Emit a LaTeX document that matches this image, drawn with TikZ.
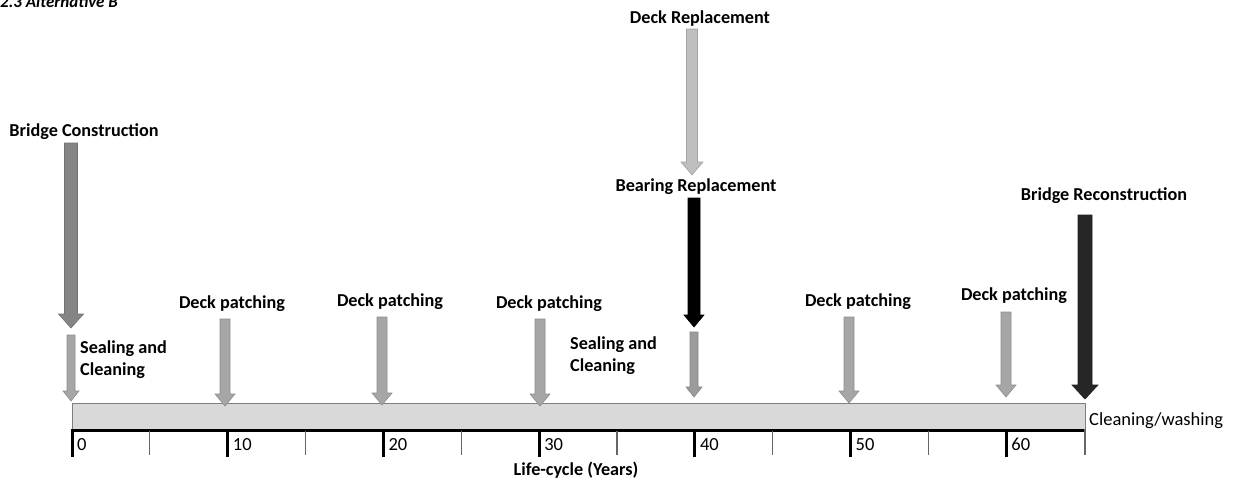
\documentclass[tikz,border=0pt]{standalone}
\usepackage{fontspec}
\setmainfont{Carlito}
\definecolor{barfill}{HTML}{D9D9D9}
\definecolor{bargray}{HTML}{7F7F7F}
\definecolor{cBC}{HTML}{858585}
\definecolor{cDP}{HTML}{A6A6A6}
\definecolor{cSC}{HTML}{9C9C9C}
\definecolor{cDR}{HTML}{BFBFBF}
\definecolor{cBR}{HTML}{000000}
\definecolor{cRC}{HTML}{262626}
% name, x, top, tip, shaft width, head width, head length, colour
\newcommand\blockarrow[8]{%
  \coordinate (#1-top) at (#2,#3);
  \coordinate (#1-tip) at (#2,#4);
  \filldraw[fill=#8, draw=#8!85!black, line width=0.6pt, line join=miter]
    ($(#1-top)+(-#5/2,0)$) -- ($(#1-top)+(#5/2,0)$) --
    ($(#1-tip)+(#5/2,-#7)$) -- ($(#1-tip)+(#6/2,-#7)$) -- (#1-tip) --
    ($(#1-tip)+(-#6/2,-#7)$) -- ($(#1-tip)+(-#5/2,-#7)$) -- cycle;}
\usetikzlibrary{calc}
\begin{document}
\begin{tikzpicture}[x=1pt,y=-1pt,
  lbl/.style={font=\fontsize{18.2}{21}\selectfont\bfseries, inner sep=0pt, anchor=base},
  lbll/.style={lbl, anchor=base west},
  num/.style={font=\fontsize{18.5}{21}\selectfont, inner sep=0pt, anchor=base west},
  major/.style={line width=3pt, black},
  minor/.style={line width=1.2pt, draw=black!60}]
\useasboundingbox (0,0) rectangle (1234,483);

% title (cut at the top edge)
\node[font=\fontsize{17}{20}\selectfont\bfseries\itshape, inner sep=0pt, anchor=base west] (title) at (0,7) {2.3 Alternative B};

% bar
\draw[fill=barfill, draw=bargray, line width=1pt] (72,403) rectangle (1085,429);
\node[num] (wash) at (1089,425) {Cleaning/washing};

% axis
\draw[line width=3pt] (72,430.5) -- (1085,430.5);
\foreach \k/\lab in {0/0,1/10,2/20,3/30,4/40,5/50,6/60}{
  \draw[major] ({72+155.7*\k},429) -- ({72+155.7*\k},457);
  \node[num] (n\lab) at ({77+155.7*\k},450) {\lab};
}
\foreach \k in {0,...,5}{
  \draw[minor] ({149.85+155.7*\k},431) -- ({149.85+155.7*\k},455);
}
\draw[minor] (1085,429) -- (1085,455);
\node[lbl] (axis) at (576,475) {Life-cycle (Years)};

% arrows
\blockarrow{bc}{71}{143}{328}{13}{25}{14}{cBC}
\blockarrow{scA}{71}{335}{401}{8}{16}{10}{cDP}
\blockarrow{dpA}{225}{319}{406}{10}{20}{12}{cDP}
\blockarrow{dpB}{382}{317}{405}{10}{20}{12}{cDP}
\blockarrow{dpC}{540}{319}{406}{10}{20}{12}{cDP}
\blockarrow{scB}{694}{332}{397}{8}{16}{10}{cSC}
\blockarrow{dr}{692}{29}{175}{11}{22}{13}{cDR}
\blockarrow{br}{694}{198}{327}{12}{20}{12}{cBR}
\blockarrow{dpD}{849}{317}{403}{10}{20}{12}{cDP}
\blockarrow{dpE}{1006}{312}{397}{10}{20}{12}{cDP}
\blockarrow{rc}{1085}{215}{399}{14}{26}{14}{cRC}

% labels
\node[lbl] (lbc) at (84,136) {Bridge Construction};
\node[lbll] (lscA1) at (80,353) {Sealing and};
\node[lbll] (lscA2) at (80,375) {Cleaning};
\node[lbl] (ldpA) at (232,308) {Deck patching};
\node[lbl] (ldpB) at (390,306) {Deck patching};
\node[lbl] (ldpC) at (549,308) {Deck patching};
\node[lbll] (lscB1) at (570,349) {Sealing and};
\node[lbll] (lscB2) at (570,371) {Cleaning};
\node[lbl] (ldr) at (700,23) {Deck Replacement};
\node[lbl] (lbr) at (696,191) {Bearing Replacement};
\node[lbl] (ldpD) at (858,306) {Deck patching};
\node[lbl] (ldpE) at (1014,300) {Deck patching};
\node[lbl] (lrc) at (1104,200) {Bridge Reconstruction};
\end{tikzpicture}
\end{document}
